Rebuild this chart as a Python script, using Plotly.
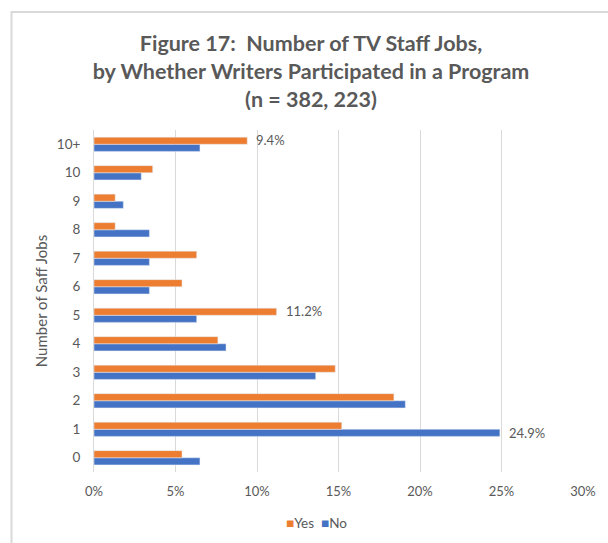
import plotly.graph_objects as go

# Number of TV staff jobs held, share of writers in each group (%)
jobs = ["0", "1", "2", "3", "4", "5", "6", "7", "8", "9", "10", "10+"]
yes_pct = [5.4, 15.2, 18.4, 14.8, 7.6, 11.2, 5.4, 6.3, 1.3, 1.3, 3.6, 9.4]
no_pct = [6.5, 24.9, 19.1, 13.6, 8.1, 6.3, 3.4, 3.4, 3.4, 1.8, 2.9, 6.5]

# Bars that carry a value label: (series, category)
labelled = [("Yes", "10+"), ("Yes", "5"), ("No", "1")]

ORANGE = "#ED7D31"
BLUE = "#4472C4"
GREY_TEXT = "#595959"
GRID = "#D9D9D9"
FONT = "Lato, 'Open Sans', sans-serif"

fig = go.Figure()
# "No" is added first so that "Yes" sits above it within each group
fig.add_trace(go.Bar(name="No", y=jobs, x=no_pct, orientation="h",
                     marker_color=BLUE, showlegend=False))
fig.add_trace(go.Bar(name="Yes", y=jobs, x=yes_pct, orientation="h",
                     marker_color=ORANGE, showlegend=False))

series = {"Yes": yes_pct, "No": no_pct}
for name, cat in labelled:
    val = series[name][jobs.index(cat)]
    fig.add_annotation(x=val, y=cat, xref="x", yref="y",
                       text=f"{val:.1f}%", showarrow=False,
                       xanchor="left", xshift=7,
                       yshift=4 if name == "Yes" else -4,
                       font=dict(size=13, color=GREY_TEXT, family=FONT))

# Compact legend: coloured squares followed by series names
fig.add_annotation(
    x=(318 - 94) / 492, y=(472 - 523) / 342, xref="paper", yref="paper",
    text=(f"<span style='color:{ORANGE}'>■</span>Yes&nbsp;&nbsp;"
          f"<span style='color:{BLUE}'>■</span>No"),
    showarrow=False, xanchor="center", yanchor="middle",
    font=dict(size=13.5, color=GREY_TEXT, family=FONT))

# Light chart border
fig.add_shape(type="rect", xref="paper", yref="paper",
              x0=-0.1687, x1=1.08, y0=-0.3, y1=1.345,
              line=dict(color=GRID, width=2), fillcolor="rgba(0,0,0,0)",
              layer="below")

fig.update_layout(
    width=608, height=543,
    margin=dict(l=94, r=22, t=130, b=71),
    paper_bgcolor="white", plot_bgcolor="white",
    barmode="group", bargap=0.5, bargroupgap=0,
    font=dict(family=FONT, color=GREY_TEXT, size=13),
    title=dict(
        text="Figure 17:  Number of TV Staff Jobs,<br>"
             "by Whether Writers Participated in a Program<br>"
             "(n = 382, 223)",
        x=311 / 608, xref="container", xanchor="center",
        y=(543 - 51) / 543, yref="container", yanchor="middle",
        font=dict(family=FONT, size=21.5, color=GREY_TEXT, weight="bold"),
    ),
    showlegend=False,
)

fig.update_xaxes(range=[0, 30], dtick=5, ticksuffix="%",
                 showgrid=True, gridcolor=GRID, gridwidth=1,
                 zeroline=False, showline=False, ticks="",
                 ticklabelstandoff=10, fixedrange=True,
                 tickfont=dict(size=13, color=GREY_TEXT))
fig.update_yaxes(type="category", categoryorder="array", categoryarray=jobs,
                 showgrid=False, zeroline=False,
                 showline=True, linecolor=GRID, linewidth=1,
                 ticks="", ticklabelstandoff=10,
                 tickfont=dict(size=13.5, color=GREY_TEXT),
                 title=dict(text="Number of Saff Jobs", standoff=5,
                            font=dict(size=15, color=GREY_TEXT)))

fig.write_html("out.html")
